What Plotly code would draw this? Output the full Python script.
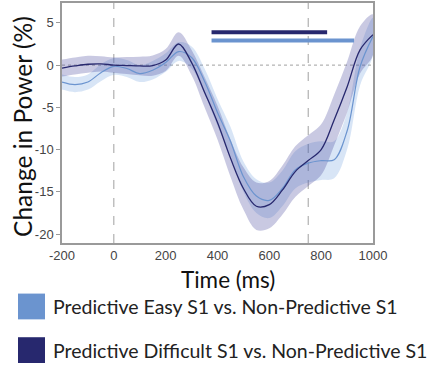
import plotly.graph_objects as go

# ---- data ----
time_ms = [-200, -150, -100, -50, 0, 50, 100, 150, 200, 250, 300, 350, 400,
           450, 500, 550, 600, 650, 700, 750, 800, 850, 900, 950, 1000]
easy_mean = [-2.0, -2.3, -2.0, -0.9, -0.15, -0.4, -1.0, -0.6, 0.3, 1.6, 0.9, -1.9, -5.6,
             -9.0, -13.2, -15.5, -16.0, -14.6, -12.4, -11.6, -11.3, -11.2, -7.8, -0.2, 3.4]
easy_half = [0.9, 0.9, 0.9, 1.0, 1.0, 1.0, 1.0, 1.1, 1.1, 1.1, 1.3, 1.5, 1.6,
             1.7, 1.8, 2.0, 2.1, 2.1, 2.2, 2.3, 2.3, 2.2, 2.2, 2.2, 2.2]
diff_mean = [-0.35, -0.1, 0.1, 0.15, 0.0, -0.05, -0.1, -0.05, 0.6, 2.5, 0.3, -3.2, -6.8,
             -11.0, -14.6, -16.7, -16.5, -14.8, -12.6, -11.3, -10.0, -6.5, -2.6, 1.8, 3.6]
diff_half = [1.0, 1.0, 1.0, 0.9, 0.9, 1.0, 1.1, 1.2, 1.3, 1.4, 1.5, 1.8, 2.0,
             2.2, 2.5, 2.8, 2.8, 2.9, 3.0, 3.0, 3.0, 3.0, 3.0, 2.8, 2.4]
sig_easy = [377, 927]
sig_diff = [377, 823]
sig_easy_y = 2.9
sig_diff_y = 3.9
legend_labels = ["Predictive Easy S1 vs. Non-Predictive S1",
                 "Predictive Difficult S1 vs. Non-Predictive S1"]
xticks = [-200, 0, 200, 400, 600, 800, 1000]
yticks = [5, 0, -5, -10, -15, -20]

EASY = "#6b94cf"
DIFF = "#27286e"
EASY_BAND = "rgba(100,150,220,0.25)"
DIFF_BAND = "rgba(60,60,150,0.28)"

fig = go.Figure()

def band(mean, half, color):
    up = [m + h for m, h in zip(mean, half)]
    lo = [m - h for m, h in zip(mean, half)]
    fig.add_trace(go.Scatter(x=time_ms + time_ms[::-1], y=up + lo[::-1],
                             fill="toself", fillcolor=color, line=dict(width=0, shape="spline"),
                             mode="lines", hoverinfo="skip", showlegend=False))

# zero line
fig.add_shape(type="line", xref="x", yref="y", x0=-200, x1=1000, y0=0, y1=0,
              line=dict(color="#a0a0a0", width=1, dash="dot"), layer="below")
for xv in [0, 750]:
    fig.add_shape(type="line", xref="x", yref="paper", x0=xv, x1=xv, y0=0, y1=1,
                  line=dict(color="#a0a0a0", width=1, dash="dash"), layer="below")

band(easy_mean, easy_half, EASY_BAND)
band(diff_mean, diff_half, DIFF_BAND)
fig.add_trace(go.Scatter(x=time_ms, y=easy_mean, mode="lines",
                         line=dict(color=EASY, width=1.2, shape="spline"), showlegend=False))
fig.add_trace(go.Scatter(x=time_ms, y=diff_mean, mode="lines",
                         line=dict(color=DIFF, width=1.3, shape="spline"), showlegend=False))
fig.add_trace(go.Scatter(x=sig_diff, y=[sig_diff_y] * 2, mode="lines",
                         line=dict(color=DIFF, width=4), showlegend=False))
fig.add_trace(go.Scatter(x=sig_easy, y=[sig_easy_y] * 2, mode="lines",
                         line=dict(color=EASY, width=4), showlegend=False))

axis_common = dict(showgrid=False, zeroline=False, showline=True, mirror=True,
                   linecolor="#9a9a9a", linewidth=1.5,
                   tickcolor="#9a9a9a", tickwidth=1,
                   tickfont=dict(family="Liberation Sans, Arial", size=13, color="#444444"))
fig.update_xaxes(range=[-200, 1000], tickvals=xticks, ticks="",
                 ticktext=[str(v) for v in xticks], **axis_common)
fig.update_yaxes(range=[-21.05, 7.35], tickvals=yticks, ticks="outside", ticklen=4,
                 ticktext=[str(v) for v in yticks], **axis_common)

W, H = 439, 369
L, R, T, B = 62, 66, 1, 126
pw, ph = W - L - R, H - T - B

def px(x):
    return (x - L) / pw

def py(y):
    return (H - B - y) / ph

fig.add_annotation(text="Time (ms)", xref="paper", yref="paper", x=px(228), y=py(280),
                   showarrow=False,
                   font=dict(family="Lato, Noto Sans, sans-serif", size=22.5, color="#111111"),
                   xanchor="center", yanchor="middle")
fig.add_annotation(text="Change in Power (%)", xref="paper", yref="paper", x=px(23), y=py(126),
                   showarrow=False,
                   font=dict(family="Lato, Noto Sans, sans-serif", size=24.5, color="#111111"),
                   textangle=-90, xanchor="center", yanchor="middle")

leg_font = dict(family="Lato, Noto Sans, sans-serif", size=19.5, color="#222222")
for i, (lab, col) in enumerate(zip(legend_labels, [EASY, DIFF])):
    yc = 307 + i * 44
    fig.add_shape(type="rect", xref="paper", yref="paper",
                  x0=px(18), x1=px(45), y0=py(yc - 13), y1=py(yc + 13),
                  fillcolor=col, line=dict(width=0))
    fig.add_annotation(text=lab, xref="paper", yref="paper", x=px(51), y=py(yc),
                       showarrow=False, font=leg_font, xanchor="left", yanchor="middle")

fig.update_layout(width=W, height=H, margin=dict(l=L, r=R, t=T, b=B),
                  plot_bgcolor="white", paper_bgcolor="white", showlegend=False)
fig.write_html("out.html")
